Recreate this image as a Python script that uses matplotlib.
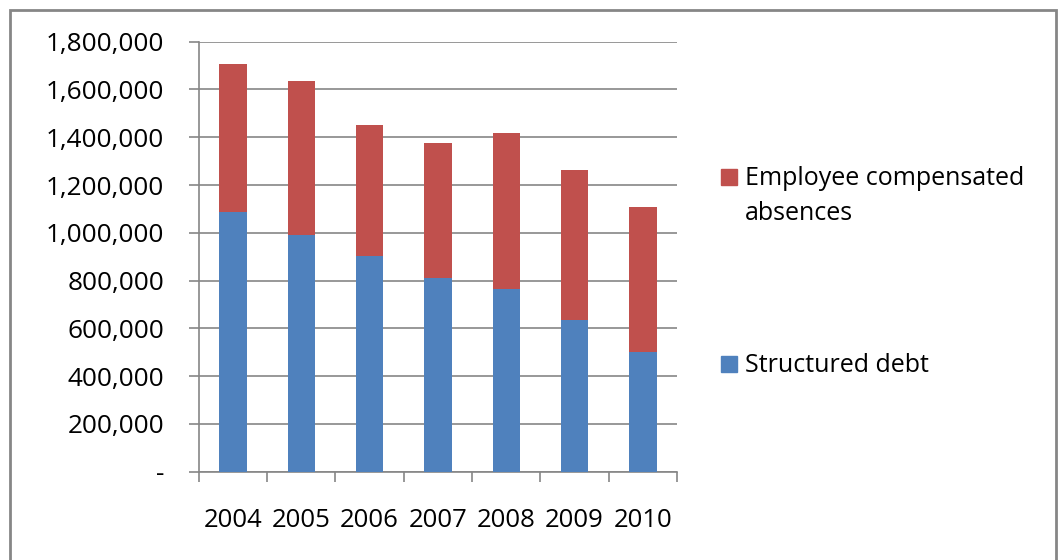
import numpy as np
import matplotlib.pyplot as plt
from matplotlib.patches import Rectangle
from matplotlib.ticker import FuncFormatter, FixedLocator

plt.rcParams['font.family'] = ['Open Sans', 'DejaVu Sans']

years = ['2004', '2005', '2006', '2007', '2008', '2009', '2010']
structured_debt = [1086000, 991000, 902000, 810000, 764000, 634000, 501000]
compensated_absences = [619000, 646000, 548000, 566000, 653000, 629000, 607000]

series_names = ['Structured debt', 'Employee compensated\nabsences']
series_colors = ['#4F81BD', '#C0504D']
grey = '#868686'

fig = plt.figure(figsize=(10.62, 5.60), dpi=100)
ax = fig.add_axes([198.7 / 1062, 88.3 / 560, 478.3 / 1062, 430 / 560])

x = np.arange(len(years))
ax.bar(x, structured_debt, width=0.4, color=series_colors[0], zorder=3)
ax.bar(x, compensated_absences, width=0.4, bottom=structured_debt,
       color=series_colors[1], zorder=3)

ax.set_xlim(-0.5, len(years) - 0.5)
ax.set_ylim(0, 1800000)
ax.set_yticks(np.arange(0, 1800001, 200000))
ax.yaxis.set_major_formatter(FuncFormatter(lambda v, p: '-' if v == 0 else f'{v:,.0f}'))
ax.grid(axis='y', color=grey, linewidth=1.2, zorder=0)

# category boundaries get tick marks, labels sit at the bar centres
ax.xaxis.set_major_locator(FixedLocator(np.arange(-0.5, len(years), 1.0)))
ax.xaxis.set_major_formatter(FuncFormatter(lambda v, p: ''))
ax.xaxis.set_minor_locator(FixedLocator(x))
ax.set_xticklabels(years, minor=True)
ax.tick_params(axis='x', which='major', length=7, width=1.2, color=grey, direction='out')
ax.tick_params(axis='x', which='minor', length=0, pad=26, labelsize=18.5)
ax.tick_params(axis='y', length=7, width=1.2, color=grey, direction='out', pad=18, labelsize=18.8)

for side in ['top', 'right']:
    ax.spines[side].set_visible(False)
for side in ['left', 'bottom']:
    ax.spines[side].set_color(grey)
    ax.spines[side].set_linewidth(1.2)

# legend drawn by hand: red entry on top, blue entry lower down
W, H = 1062, 560
entries = [(series_names[1], series_colors[1], 177, -11), (series_names[0], series_colors[0], 363.5, -11)]
for label, color, cy, off in entries:
    fig.add_artist(Rectangle((721 / W, 1 - (cy + 8) / H), 16 / W, 16 / H,
                             transform=fig.transFigure, color=color))
    fig.text(745 / W, 1 - (cy + off) / H, label, fontsize=18, va='top', ha='left',
             linespacing=1.55)

# chart frame
fig.add_artist(Rectangle((10 / W, -0.1), 1046 / W, 1.1 - 10 / H, transform=fig.transFigure,
                         fill=False, edgecolor=grey, linewidth=2))

fig.savefig('out.png', dpi=100)
